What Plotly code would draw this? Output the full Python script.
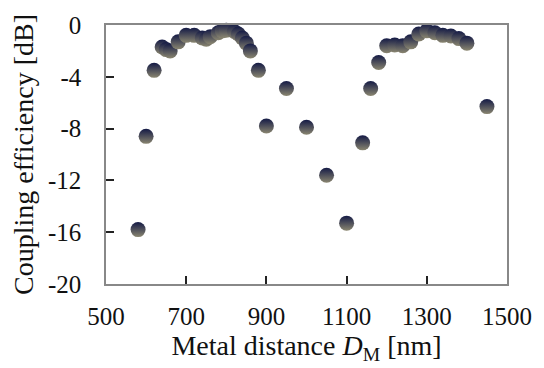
import plotly.graph_objects as go

distance_nm = [580, 600, 620, 640, 650, 660, 680, 700, 720, 740, 750, 760, 780, 790, 800,
               820, 830, 840, 850, 860, 880, 900, 950, 1000, 1050, 1100, 1140, 1160, 1180,
               1200, 1220, 1240, 1260, 1280, 1300, 1320, 1340, 1360, 1380, 1400, 1450]
efficiency_db = [-15.8, -8.6, -3.5, -1.7, -1.9, -2.0, -1.3, -0.8, -0.8, -1.0, -1.1, -0.9, -0.6, -0.45, -0.4,
                 -0.5, -0.7, -1.0, -1.4, -2.0, -3.5, -7.8, -4.9, -7.9, -11.6, -15.3, -9.1, -4.9, -2.9,
                 -1.6, -1.55, -1.6, -1.3, -0.7, -0.45, -0.6, -0.8, -0.85, -1.05, -1.4, -6.3]

x_ticks = [500, 700, 900, 1100, 1300, 1500]
y_ticks = [0, -4, -8, -12, -16, -20]
y_tick_text = ["0", "-4", "-8", "-12", "-16", "-20"]

font_family = "Liberation Serif"

fig = go.Figure()
fig.add_trace(go.Scatter(
    x=distance_nm, y=efficiency_db, mode="markers",
    marker=dict(size=15, color="#141a45",
                gradient=dict(type="vertical", color="#8a8670"),
                line=dict(width=0)),
    showlegend=False, cliponaxis=False,
))

fig.update_layout(
    width=544, height=368,
    margin=dict(l=106, r=31, t=21, b=81),
    paper_bgcolor="white", plot_bgcolor="white",
    font=dict(family=font_family, size=25, color="#111111"),
)
fig.update_xaxes(
    range=[500, 1500], tickvals=x_ticks, ticktext=[str(v) for v in x_ticks],
    ticks="inside", ticklen=8, tickwidth=1.5, tickcolor="#222222",
    showline=True, linecolor="#888888", linewidth=1.5, mirror=True,
    showgrid=False, zeroline=False, ticklabelstandoff=9,
    title=dict(text="Metal distance <i>D</i><sub>M</sub> [nm]", font=dict(size=28), standoff=7),
)
fig.update_yaxes(
    range=[-20, 0], tickvals=y_ticks, ticktext=y_tick_text,
    ticks="inside", ticklen=8, tickwidth=1.5, tickcolor="#222222",
    showline=True, linecolor="#888888", linewidth=1.5, mirror=True,
    showgrid=False, zeroline=False, ticklabelstandoff=18,
    title=dict(text="Coupling efficiency [dB]", font=dict(size=28), standoff=6),
)

fig.write_html("out.html")
